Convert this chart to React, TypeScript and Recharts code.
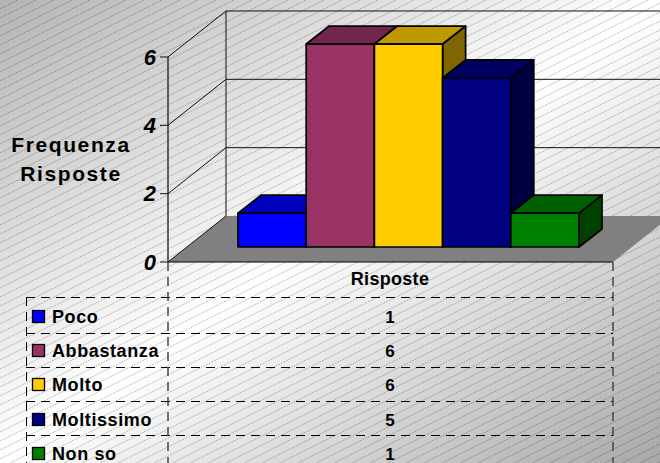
import { ComposedChart, Bar, Line, XAxis, YAxis, CartesianGrid } from 'recharts';

const categoryName = 'Risposte';
const seriesNames = ['Poco', 'Abbastanza', 'Molto', 'Moltissimo', 'Non so'];
const seriesValues = [1, 6, 6, 5, 1];
const seriesColors = ['#0000FF', '#993366', '#FFCC00', '#000080', '#008000'];
const yTicks = [0, 2, 4, 6];

const chartData = [
  seriesNames.reduce<Record<string, string | number>>(
    (row, name, i) => {
      row[name] = seriesValues[i];
      return row;
    },
    { name: categoryName }
  ),
];

const WIDTH = 660;
const HEIGHT = 463;
const FONT = '"Liberation Sans", Arial, sans-serif';

// plot area on the front plane of the box
const PLOT_LEFT = 168;
const PLOT_RIGHT = 613;
const PLOT_TOP = 40;
const PLOT_BOTTOM = 262;
const AXIS_TOP = 57;
// wall depth and bar depth
const WALL_DX = 58;
const WALL_DY = 46;
const BAR_DX = 23;
const BAR_DY = 18;
const tableRows = [297, 333, 367, 401, 435];
const rowText = [317, 351, 385, 420, 454];

const shade = (hex: string, f: number) => {
  const n = parseInt(hex.slice(1), 16);
  const c = [(n >> 16) & 255, (n >> 8) & 255, n & 255].map((v) => Math.round(v * f));
  return `rgb(${c[0]},${c[1]},${c[2]})`;
};

const Bar3D = (props: any) => {
  const { x, y, width, height, fill } = props;
  const r = x + width;
  const b = y + height;
  return (
    <g stroke="#000" strokeWidth={1.7} strokeLinejoin="round">
      <polygon
        points={`${r},${y} ${r + BAR_DX},${y - BAR_DY} ${r + BAR_DX},${b - BAR_DY} ${r},${b}`}
        fill={shade(fill, 0.5)}
      />
      <polygon
        points={`${x},${y} ${x + BAR_DX},${y - BAR_DY} ${r + BAR_DX},${y - BAR_DY} ${r},${y}`}
        fill={shade(fill, 0.75)}
      />
      <rect x={x} y={y} width={width} height={height} fill={fill} />
    </g>
  );
};

const gridLine = (props: any) => {
  const { x1, x2, y1, index } = props;
  // the grid also hands over the top edge of the plot, which is not a tick
  if (y1 < AXIS_TOP - 2) return <g key={`grid-${index}`} />;
  const bx = x1 + WALL_DX;
  const by = y1 - WALL_DY;
  return (
    <g key={`grid-${index}`} fill="none" stroke="#111" strokeWidth={1}>
      <line x1={x1} y1={y1} x2={bx} y2={by} />
      {y1 < PLOT_BOTTOM - 1 && <line x1={bx} y1={by} x2={x2 + WALL_DX} y2={by} />}
    </g>
  );
};

const CategoryTick = (props: any) => (
  <text
    x={390}
    y={props.y + 15}
    textAnchor="middle"
    fontFamily={FONT}
    fontSize={18}
    fontWeight="bold"
    letterSpacing={0.3}
    fill="#000"
  >
    {props.payload.value}
  </text>
);

const Backdrop = () => (
  <svg width={WIDTH} height={HEIGHT} style={{ position: 'absolute', left: 0, top: 0 }}>
    <defs>
      <linearGradient id="bg" x1="0" y1="0" x2="1" y2="1">
        <stop offset="0" stopColor="#b4b4b4" />
        <stop offset="0.5" stopColor="#ffffff" />
        <stop offset="1" stopColor="#a8a8a8" />
      </linearGradient>
      <pattern id="hatch" width="18" height="9" patternUnits="userSpaceOnUse">
        <line x1="0" y1="9" x2="18" y2="0" stroke="#000" strokeOpacity={0.25} strokeWidth={1} strokeDasharray="2 1" />
      </pattern>
    </defs>
    <rect width={WIDTH} height={HEIGHT} fill="url(#bg)" />
    <rect width={WIDTH} height={HEIGHT} fill="url(#hatch)" />
    <polygon
      points={`${PLOT_LEFT},${PLOT_BOTTOM} ${PLOT_RIGHT},${PLOT_BOTTOM} ${PLOT_RIGHT + WALL_DX},${PLOT_BOTTOM - WALL_DY} ${PLOT_LEFT + WALL_DX},${PLOT_BOTTOM - WALL_DY}`}
      fill="#808080"
    />
    <line
      x1={PLOT_LEFT + WALL_DX}
      y1={11}
      x2={PLOT_LEFT + WALL_DX}
      y2={PLOT_BOTTOM - WALL_DY}
      stroke="#111"
    />
    <line x1={PLOT_LEFT} y1={AXIS_TOP} x2={PLOT_LEFT} y2={PLOT_BOTTOM} stroke="#333" strokeWidth={1.5} />
  </svg>
);

const DataTable = () => (
  <svg
    width={WIDTH}
    height={HEIGHT}
    style={{ position: 'absolute', left: 0, top: 0, pointerEvents: 'none' }}
    fontFamily={FONT}
    fontWeight="bold"
    fill="#000"
  >
    <text x={71} y={152} textAnchor="middle" fontSize={21} letterSpacing={1.6}>
      Frequenza
    </text>
    <text x={71} y={181} textAnchor="middle" fontSize={21} letterSpacing={1.6}>
      Risposte
    </text>
    <g stroke="#000" strokeWidth={1} strokeDasharray="9 6" fill="none">
      {tableRows.map((y) => (
        <line key={y} x1={26} y1={y + 0.5} x2={PLOT_RIGHT} y2={y + 0.5} />
      ))}
      <line x1={26.5} y1={297} x2={26.5} y2={HEIGHT} />
      <line x1={PLOT_LEFT} y1={PLOT_BOTTOM} x2={PLOT_LEFT} y2={HEIGHT} stroke="#444" strokeWidth={1.5} />
      <line x1={PLOT_RIGHT} y1={PLOT_BOTTOM} x2={PLOT_RIGHT} y2={HEIGHT} stroke="#444" strokeWidth={1.5} />
    </g>
    {seriesNames.map((name, i) => (
      <g key={name}>
        <rect
          x={32.5}
          y={rowText[i] - 6.5}
          width={12}
          height={12}
          fill={seriesColors[i]}
          stroke="#000"
          strokeWidth={1.3}
        />
        <text x={52} y={rowText[i] + 6} fontSize={18} letterSpacing={0.6}>
          {name}
        </text>
        <text x={390} y={rowText[i] + 6} textAnchor="middle" fontSize={17}>
          {seriesValues[i]}
        </text>
      </g>
    ))}
  </svg>
);

export default function App() {
  return (
    <div style={{ position: 'absolute', left: 0, top: 0, width: WIDTH, height: HEIGHT, overflow: 'hidden' }}>
      <Backdrop />
      <div style={{ position: 'absolute', left: 0, top: 0 }}>
        <ComposedChart
          width={WIDTH}
          height={HEIGHT}
          data={chartData}
          margin={{ top: PLOT_TOP, right: WIDTH - PLOT_RIGHT, bottom: HEIGHT - PLOT_BOTTOM - 30, left: 0 }}
          barGap={0}
          barSize={68.2}
        >
          <CartesianGrid yAxisId="front" vertical={false} horizontal={gridLine} />
          <XAxis
            dataKey="name"
            height={30}
            padding={{ left: 36, right: 0 }}
            tickLine={false}
            axisLine={{ stroke: '#000', strokeWidth: 1 }}
            tick={<CategoryTick />}
          />
          <YAxis yAxisId="bars" hide width={0} domain={[-0.443, 6.119]} />
          <YAxis
            yAxisId="front"
            width={PLOT_LEFT}
            domain={[0, 6.497]}
            ticks={yTicks}
            tickSize={8}
            tickMargin={4}
            tickLine={{ stroke: '#111' }}
            axisLine={false}
            tick={{ fontFamily: FONT, fontSize: 22, fontStyle: 'italic', fontWeight: 'bold', fill: '#000' }}
          />
          {/* keeps the front axis scale alive, draws nothing */}
          <Line
            yAxisId="front"
            dataKey={seriesNames[0]}
            stroke="none"
            fill="none"
            dot={false}
            activeDot={false}
            isAnimationActive={false}
          />
          {seriesNames.map((name, i) => (
            <Bar
              key={name}
              yAxisId="bars"
              dataKey={name}
              fill={seriesColors[i]}
              shape={<Bar3D />}
              isAnimationActive={false}
            />
          ))}
        </ComposedChart>
      </div>
      <DataTable />
    </div>
  );
}
